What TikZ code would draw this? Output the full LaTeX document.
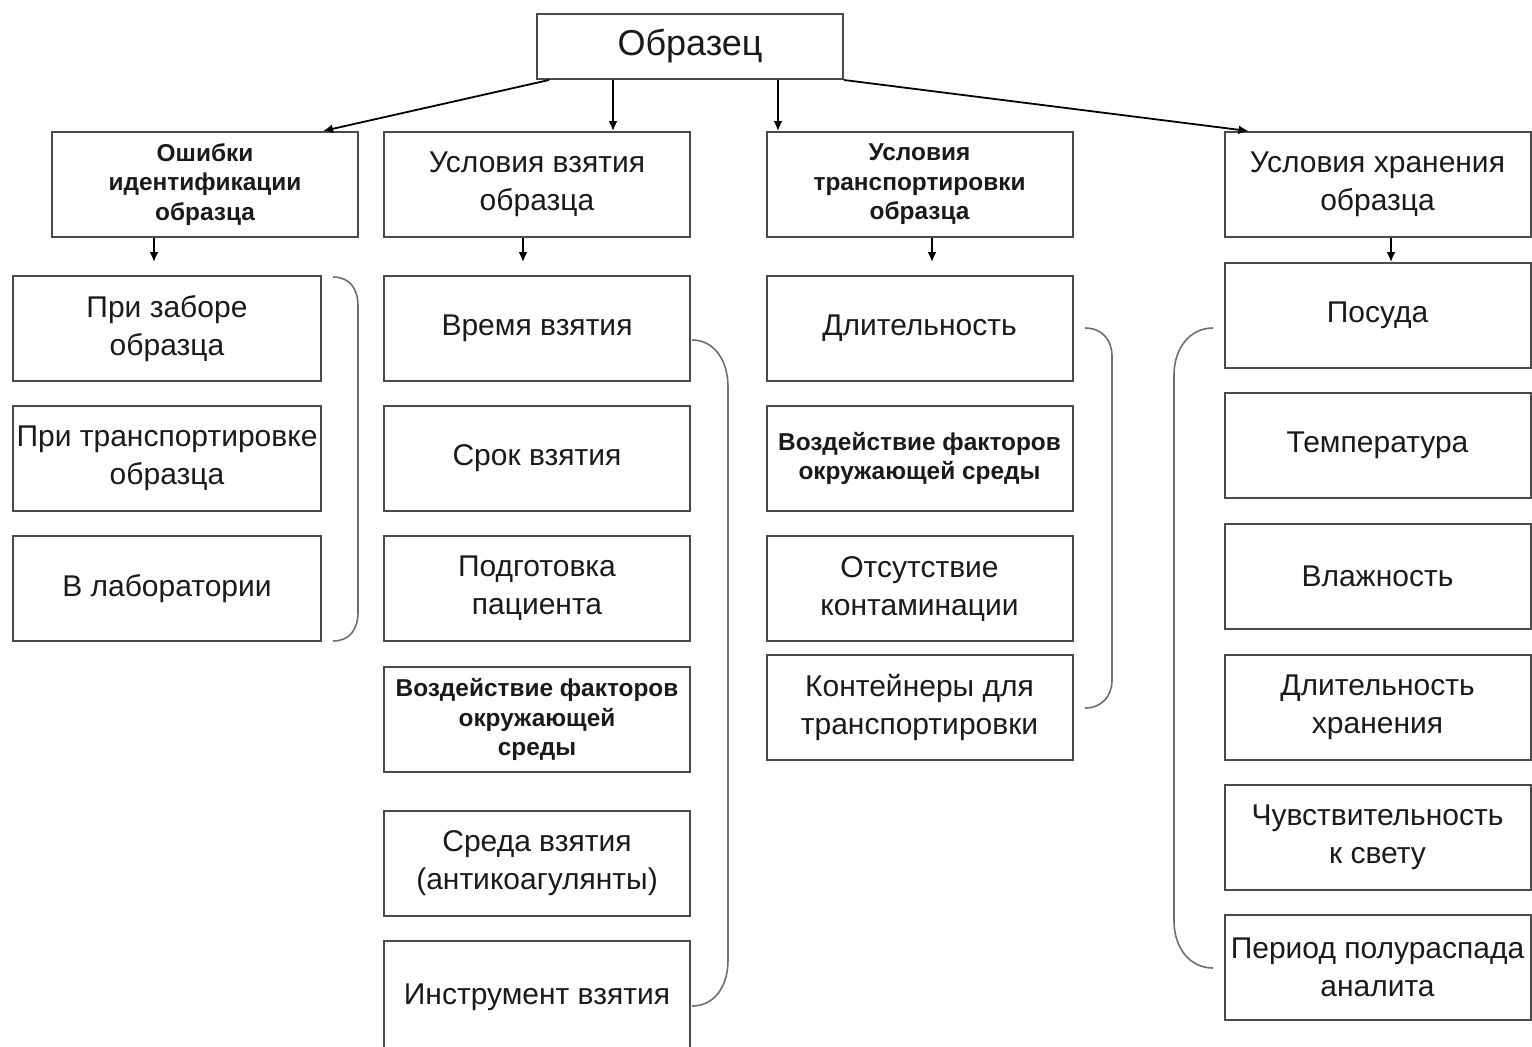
\documentclass[tikz,border=0pt]{standalone}
\usepackage{fontspec}
\setmainfont{Liberation Sans}
\usetikzlibrary{arrows.meta,calc}
\definecolor{boxgray}{HTML}{4A4A4A}
\definecolor{brgray}{HTML}{6E6E6E}
\definecolor{txt}{HTML}{1A1A1A}
\begin{document}
\begin{tikzpicture}[x=0.5pt,y=-0.5pt,
  box/.style={draw=boxgray, line width=1pt, minimum width=153pt, minimum height=52.5pt,
    inner sep=0pt, align=center, text=txt, font=\fontsize{15}{19}\selectfont},
  sbox/.style={box, font=\bfseries\fontsize{12.2}{14.8}\selectfont},
  arr/.style={draw=black, line width=0.9pt, -{Latex[length=5pt,width=4.5pt]}},
  brace/.style={draw=brgray, line width=0.8pt}]
\useasboundingbox (0,0) rectangle (1532,1046);
% top
\node[box, minimum height=32.5pt, font=\fontsize{18}{22}\selectfont] (top) at (690,46.5) {Образец};
% row 1
\node[sbox] (c1) at (205,184.5) {Ошибки\\идентификации\\образца};
\node[box]  (c2) at (537,184.5) {Условия взятия\\образца};
\node[sbox] (c3) at (919.5,184.5) {Условия\\транспортировки\\образца};
\node[box]  (c4) at (1377.5,184.5) {Условия хранения\\образца};
% column 1
\node[box, minimum width=154pt] (a1) at (167,328.5) {При заборе\\образца};
\node[box, minimum width=154pt] (a2) at (167,458.5) {При транспортировке\\образца};
\node[box, minimum width=154pt] (a3) at (167,588.5) {В лаборатории};
% column 2
\node[box]  (b1) at (537,328.5) {Время взятия};
\node[box]  (b2) at (537,458.5) {Срок взятия};
\node[box]  (b3) at (537,588.5) {Подготовка\\пациента};
\node[sbox] (b4) at (537,719.5) {Воздействие факторов\\окружающей\\среды};
\node[box]  (b5) at (537,863.5) {Среда взятия\\(антикоагулянты)};
\node[box, minimum height=56pt] (b6) at (537,997) {Инструмент взятия};
% column 3
\node[box]  (d1) at (919.5,328.5) {Длительность};
\node[sbox] (d2) at (919.5,458.5) {Воздействие факторов\\окружающей среды};
\node[box]  (d3) at (919.5,588.5) {Отсутствие\\контаминации};
\node[box]  (d4) at (919.5,707.5) {Контейнеры для\\транспортировки};
% column 4
\node[box]  (e1) at (1377.5,315.5) {Посуда};
\node[box]  (e2) at (1377.5,445.5) {Температура};
\node[box]  (e3) at (1377.5,576.5) {Влажность};
\node[box]  (e4) at (1377.5,707.5) {Длительность\\хранения};
\node[box]  (e5) at (1377.5,837.5) {Чувствительность\\к свету};
\node[box]  (e6) at (1377.5,967.5) {Период полураспада\\аналита};
% arrows from top
\coordinate (t1) at ($(top.south west)+(13,0)$);
\coordinate (t2) at ($(top.south west)+(77,0)$);
\coordinate (t3) at ($(top.south west)+(242,0)$);
\draw[arr] (t1) -- ($(c1.north east)+(-36,0)$);
\draw[arr] (t2) -- (t2 |- c2.north);
\draw[arr] (t3) -- (t3 |- c3.north);
\draw[arr] (top.south east) -- ($(c4.north west)+(25,0)$);
% arrows from row 1
\coordinate (k1) at (154,262);
\coordinate (k2) at (523,262);
\coordinate (k3) at (932,262);
\coordinate (k4) at (1391,262);
\draw[arr] (c1.south -| k1) -- (k1);
\draw[arr] (c2.south -| k2) -- (k2);
\draw[arr] (c3.south -| k3) -- (k3);
\draw[arr] (c4.south -| k4) -- (e1.north -| k4);
% braces
\draw[brace] (333,277) .. controls (350,277) and (358,289) .. (358,306) -- (358,612)
  .. controls (358,629) and (350,641) .. (333,641);
\draw[brace] (692,340) .. controls (714,340) and (728,360) .. (728,387) -- (728,960)
  .. controls (728,987) and (714,1006) .. (692,1006);
\draw[brace] (1085,328) .. controls (1102,328) and (1112,340) .. (1112,356) -- (1112,680)
  .. controls (1112,696) and (1102,708) .. (1085,708);
\draw[brace] (1213,328) .. controls (1190,328) and (1174,348) .. (1174,375) -- (1174,921)
  .. controls (1174,948) and (1190,968) .. (1213,968);
\end{tikzpicture}
\end{document}
